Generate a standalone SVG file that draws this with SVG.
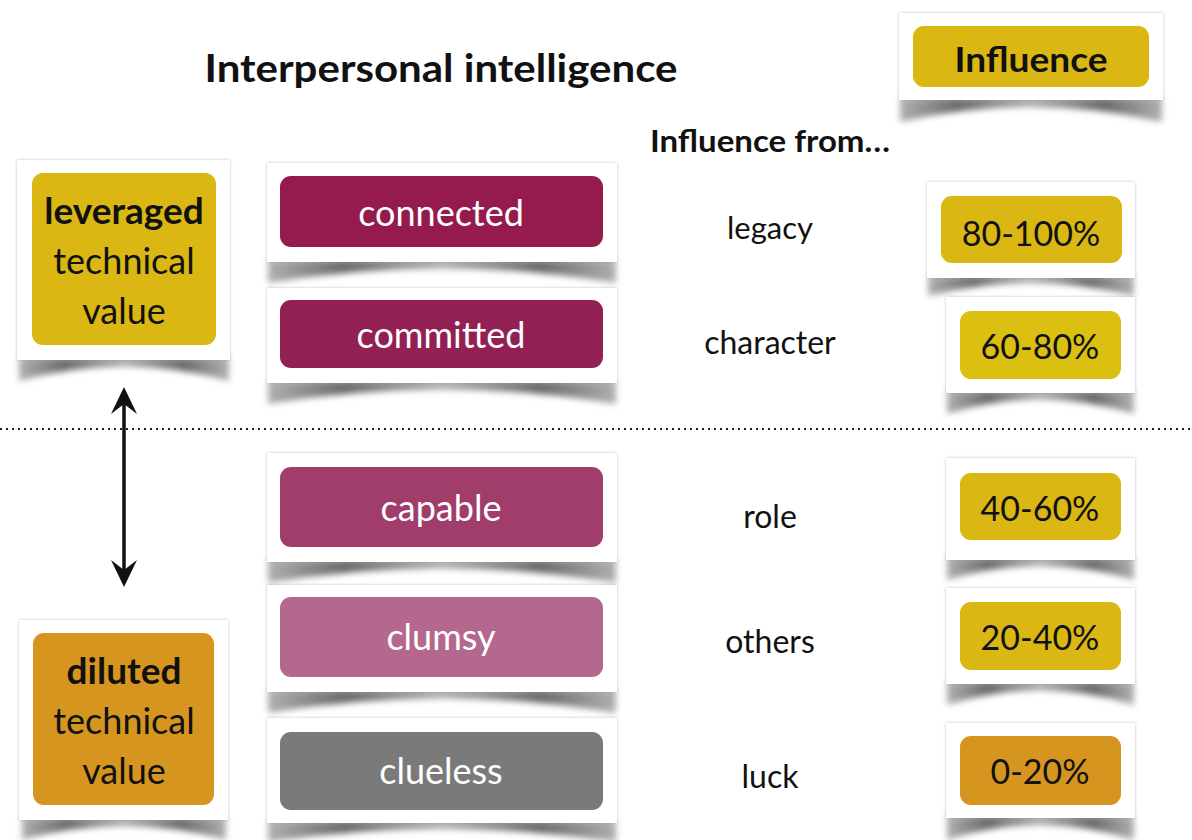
<svg xmlns="http://www.w3.org/2000/svg" width="1192" height="840" viewBox="0 0 1192 840">
<style>
  .card{fill:#ffffff;}
  .t{font-family:Lato,"Open Sans","Liberation Sans",sans-serif;text-anchor:middle;}
  .dark{fill:#111111;}
  .white{fill:#ffffff;}
  .b{font-weight:bold;}
  .sh{fill:url(#shg);filter:url(#blur);}
</style>
<defs>
  <filter id="blur" x="-10%" y="-60%" width="120%" height="220%">
    <feGaussianBlur stdDeviation="3"/>
  </filter>
  <filter id="side" x="-5%" y="-5%" width="110%" height="110%">
    <feGaussianBlur in="SourceAlpha" stdDeviation="1.5"/>
    <feComponentTransfer><feFuncA type="linear" slope="0.25"/></feComponentTransfer>
    <feMerge><feMergeNode/><feMergeNode in="SourceGraphic"/></feMerge>
  </filter>
  <linearGradient id="shg" x1="0" y1="0" x2="1" y2="0">
    <stop offset="0" stop-color="#b0b0b0"/>
    <stop offset="0.22" stop-color="#6a6a6a"/>
    <stop offset="0.5" stop-color="#ababab"/>
    <stop offset="0.78" stop-color="#6a6a6a"/>
    <stop offset="1" stop-color="#b0b0b0"/>
  </linearGradient>
  <marker id="ah" viewBox="0 0 30 30" refX="17" refY="15" markerWidth="30" markerHeight="30" markerUnits="userSpaceOnUse" orient="auto-start-reverse">
    <path d="M1,2 L28,15 L1,28 L11,15 Z" fill="#111"/>
  </marker>
</defs>
<rect width="1192" height="840" fill="#ffffff"/>

<text class="t dark b" x="441" y="82" font-size="39" textLength="473" lengthAdjust="spacingAndGlyphs">Interpersonal intelligence</text>
<text class="t dark b" x="770" y="152" font-size="31" textLength="240" lengthAdjust="spacingAndGlyphs">Influence from…</text>

<g id="connectors">
  <line x1="0" y1="429" x2="1192" y2="429" stroke="#222" stroke-width="2" stroke-dasharray="2 4"/>
  <line x1="124" y1="398" x2="124" y2="576" stroke="#111" stroke-width="3.5" marker-start="url(#ah)" marker-end="url(#ah)"/>
</g>

<!-- left cards -->
<g id="leveraged">
  <path class="sh" d="M19,358 L229,358 L229,381 Q124,352 19,381 Z"/>
  <rect class="card" x="17" y="160" width="213" height="200" filter="url(#side)"/>
  <rect x="32" y="173" width="184" height="172" rx="11" fill="#DAB712"/>
  <text class="t dark b" x="124" y="224" font-size="37">leveraged</text>
  <text class="t dark" x="124" y="274" font-size="36">technical</text>
  <text class="t dark" x="124" y="324" font-size="36">value</text>
</g>
<g id="diluted">
  <path class="sh" d="M22,818 L226,818 L226,840 Q124,812 22,840 Z"/>
  <rect class="card" x="19" y="620" width="209" height="200" filter="url(#side)"/>
  <rect x="33" y="633" width="181" height="172" rx="11" fill="#D6951E"/>
  <text class="t dark b" x="124" y="684" font-size="37">diluted</text>
  <text class="t dark" x="124" y="734" font-size="36">technical</text>
  <text class="t dark" x="124" y="784" font-size="36">value</text>
</g>

<!-- middle cards -->
<g id="connected">
  <path class="sh" d="M268,260 L616,260 L616,283 Q442,254 268,283 Z"/>
  <rect class="card" x="267" y="163" width="350" height="99" filter="url(#side)"/>
  <rect x="280" y="176" width="323" height="71" rx="11" fill="#951A4E"/>
  <text class="t white" x="441" y="226" font-size="36">connected</text>
</g>
<g id="committed">
  <path class="sh" d="M268,381 L616,381 L616,404 Q442,375 268,404 Z"/>
  <rect class="card" x="267" y="288" width="350" height="95" filter="url(#side)"/>
  <rect x="280" y="300" width="323" height="68" rx="11" fill="#932054"/>
  <text class="t white" x="441" y="348" font-size="36">committed</text>
</g>
<g id="capable">
  <path class="sh" d="M268,560 L616,560 L616,583 Q442,554 268,583 Z"/>
  <rect class="card" x="267" y="453" width="350" height="109" filter="url(#side)"/>
  <rect x="280" y="467" width="323" height="80" rx="11" fill="#A03D6B"/>
  <text class="t white" x="441" y="521" font-size="36">capable</text>
</g>
<g id="clumsy">
  <path class="sh" d="M268,690 L616,690 L616,713 Q442,684 268,713 Z"/>
  <rect class="card" x="267" y="585" width="350" height="107" filter="url(#side)"/>
  <rect x="280" y="597" width="323" height="80" rx="11" fill="#B4688D"/>
  <text class="t white" x="441" y="650" font-size="36">clumsy</text>
</g>
<g id="clueless">
  <path class="sh" d="M268,821 L616,821 L616,842 Q442,816 268,842 Z"/>
  <rect class="card" x="267" y="718" width="350" height="105" filter="url(#side)"/>
  <rect x="280" y="732" width="323" height="78" rx="11" fill="#7A7A7A"/>
  <text class="t white" x="441" y="784" font-size="36">clueless</text>
</g>

<!-- influence from labels -->
<g id="legacy"><text class="t dark" x="770" y="239" font-size="31">legacy</text></g>
<g id="character"><text class="t dark" x="770" y="354" font-size="32">character</text></g>
<g id="role"><text class="t dark" x="770" y="528" font-size="32">role</text></g>
<g id="others"><text class="t dark" x="770" y="653" font-size="32">others</text></g>
<g id="luck"><text class="t dark" x="770" y="788" font-size="32">luck</text></g>

<!-- right cards -->
<g id="influence">
  <path class="sh" d="M900,98 L1162,98 L1162,122 Q1031,92 900,122 Z"/>
  <rect class="card" x="899" y="13" width="264" height="87" filter="url(#side)"/>
  <rect x="913" y="26" width="236" height="61" rx="11" fill="#DAB712"/>
  <text class="t dark b" x="1031" y="72" font-size="34" textLength="153" lengthAdjust="spacingAndGlyphs">Influence</text>
</g>
<g id="p80-100">
  <path class="sh" d="M928,276 L1134,276 L1134,296 Q1031,270 928,296 Z"/>
  <rect class="card" x="927" y="182" width="208" height="96" filter="url(#side)"/>
  <rect x="941" y="196" width="181" height="67" rx="11" fill="#DAB712"/>
  <text class="t dark" x="1031" y="246" font-size="34">80-100%</text>
</g>
<g id="p60-80">
  <path class="sh" d="M947,391 L1134,391 L1134,414 Q1040,385 947,414 Z"/>
  <rect class="card" x="946" y="297" width="189" height="96" filter="url(#side)"/>
  <rect x="960" y="311" width="161" height="68" rx="11" fill="#DCC011"/>
  <text class="t dark" x="1040" y="359" font-size="34">60-80%</text>
</g>
<g id="p40-60">
  <path class="sh" d="M947,558 L1134,558 L1134,580 Q1040,552 947,580 Z"/>
  <rect class="card" x="946" y="458" width="189" height="102" filter="url(#side)"/>
  <rect x="960" y="473" width="161" height="67" rx="11" fill="#DAB712"/>
  <text class="t dark" x="1040" y="521" font-size="34">40-60%</text>
</g>
<g id="p20-40">
  <path class="sh" d="M947,682 L1134,682 L1134,705 Q1040,676 947,705 Z"/>
  <rect class="card" x="946" y="588" width="189" height="96" filter="url(#side)"/>
  <rect x="960" y="602" width="161" height="68" rx="11" fill="#DAB712"/>
  <text class="t dark" x="1040" y="650" font-size="34">20-40%</text>
</g>
<g id="p0-20">
  <path class="sh" d="M947,816 L1134,816 L1134,840 Q1040,810 947,840 Z"/>
  <rect class="card" x="946" y="723" width="189" height="95" filter="url(#side)"/>
  <rect x="960" y="736" width="161" height="69" rx="11" fill="#D6951E"/>
  <text class="t dark" x="1040" y="784" font-size="34">0-20%</text>
</g>
</svg>
